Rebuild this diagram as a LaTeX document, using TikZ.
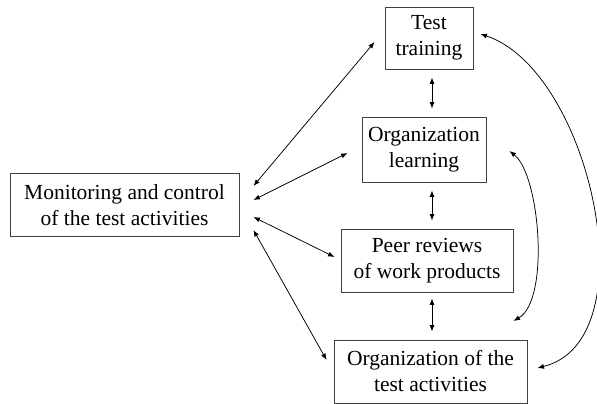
\documentclass[tikz,border=0pt]{standalone}
\usepackage{fontspec}
\setmainfont{Liberation Serif}
\usetikzlibrary{arrows.meta,calc}
\begin{document}
\begin{tikzpicture}[x=1pt,y=-1pt,
  box/.style={draw=black!75,line width=0.9pt,align=center,inner sep=0pt,
    font=\fontsize{21.5}{26}\selectfont},
  link/.style={line width=0.75pt,{Latex[length=6.5pt,width=5pt]}-{Latex[length=6.5pt,width=5pt]}}]
\useasboundingbox (0,0) rectangle (597,404);
% activity boxes
\node[box,minimum width=229pt,minimum height=63pt] (mon) at (124.5,205) {Monitoring and control\\of the test activities};
\node[box,minimum width=88pt,minimum height=62pt] (trn) at (429,38) {Test\\training};
\node[box,minimum width=124pt,minimum height=65pt] (lrn) at (424,149.5) {Organization\\learning};
\node[box,minimum width=172pt,minimum height=63pt] (peer) at (427,260.5) {Peer reviews\\of work products};
\node[box,minimum width=193pt,minimum height=63pt] (org) at (430.5,371.5) {Organization of the\\test activities};
% links from monitoring and control
\draw[link] ($(mon.east)+(14,-19)$) -- ($(trn.west)+(-10,4)$);
\draw[link] ($(mon.east)+(14,-5)$) -- ($(lrn.west)+(-14,3.5)$);
\draw[link] ($(mon.east)+(14,12)$) -- ($(peer.west)+(-6,-3.5)$);
\draw[link] ($(mon.east)+(14,25)$) -- ($(org.west)+(-7,-11.5)$);
% links down the chain
\draw[link] ($(trn.south)+(3,8)$) -- ($(lrn.north)+(8,-8)$);
\draw[link] ($(lrn.south)+(8,8)$) -- ($(peer.north)+(5,-8)$);
\draw[link] ($(peer.south)+(5,6)$) -- ($(org.north)+(1.5,-8)$);
% curved links on the right
\draw[link] ($(trn.east)+(7,-4)$) .. controls (590,70) and (650,340) .. ($(org.east)+(10,-3.5)$);
\draw[link] ($(lrn.east)+(23,1.5)$) .. controls (540,175) and (550,300) .. ($(peer.south east)+(0,28.5)$);
\end{tikzpicture}
\end{document}
